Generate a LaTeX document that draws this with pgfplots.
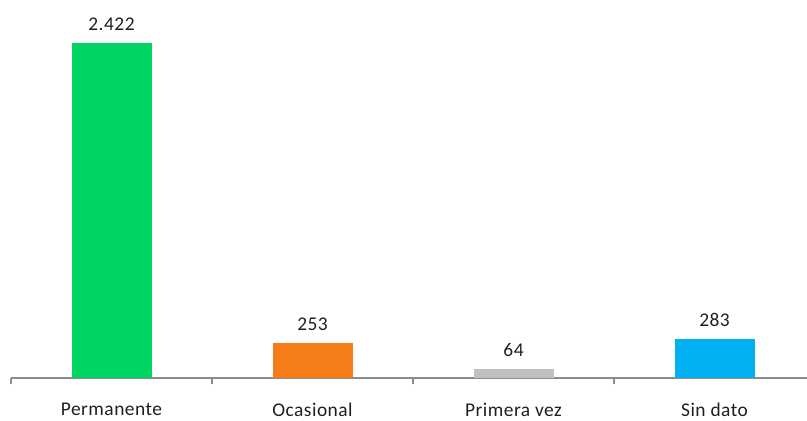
\documentclass[border=0pt]{standalone}
\usepackage{pgfplots}
\pgfplotsset{compat=1.18}
\usepackage{fontspec}
\setmainfont{Carlito}[LetterSpace=2.5]

\definecolor{verde}{HTML}{00D563}
\definecolor{naranja}{HTML}{F57C19}
\definecolor{gris}{HTML}{BFBFBF}
\definecolor{celeste}{HTML}{00B0F0}
\definecolor{eje}{HTML}{8C8C8C}
\definecolor{texto}{HTML}{1F1F1F}

\begin{document}
\begin{tikzpicture}
\begin{axis}[
    scale only axis,
    width=796bp, height=359.6bp,
    xmin=-0.5, xmax=3.46,
    ymin=0, ymax=2600,
    axis x line*=bottom,
    axis y line=none,
    x axis line style={draw=eje, line width=1.4bp, -},
    ybar, bar width=80bp, bar shift=0pt,
    xtick={0,1,2,3},
    xticklabels={Permanente, Ocasional, Primera vez, Sin dato},
    major tick length=0pt,
    extra x ticks={-0.5,0.5,1.5,2.5},
    extra x tick labels={},
    extra x tick style={major tick length=6bp, tick align=outside,
        tick style={draw=eje, line width=1.2bp}},
    xticklabel style={font=\fontsize{19.5}{22}\selectfont, text=texto,
        inner sep=1bp, yshift=-24bp},
    point meta=explicit symbolic,
    nodes near coords,
    every node near coord/.append style={font=\fontsize{19.5}{22}\selectfont,
        text=texto, anchor=south, yshift=9bp},
    clip=false,
]
\addplot[fill=verde, draw=none] coordinates {(0,2422) [2.422]};
\addplot[fill=naranja, draw=none] coordinates {(1,253) [253]};
\addplot[fill=gris, draw=none] coordinates {(2,64) [64]};
\addplot[fill=celeste, draw=none] coordinates {(3,283) [283]};
\end{axis}
\pgfresetboundingbox
\path[use as bounding box] ([shift={(-11bp,-43bp)}]current axis.south west)
    rectangle ([shift={(0bp,18.4bp)}]current axis.north east);
\end{tikzpicture}
\end{document}
